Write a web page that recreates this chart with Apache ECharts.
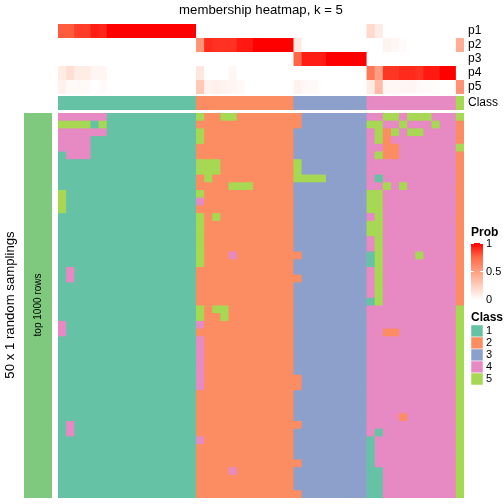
<!DOCTYPE html>
<html><head><meta charset="utf-8">
<script src="https://cdn.jsdelivr.net/npm/echarts@6/dist/echarts.min.js"></script>
<style>html,body{margin:0;padding:0;background:#fff}#c{width:504px;height:504px}</style>
</head><body><div id="c"></div>
<script>
// ---------- data ----------
var probNames = ['p1', 'p2', 'p3', 'p4', 'p5'];
var p1 = [0.78,0.78,0.85,0.85,0.93,0.91,1,1,1,1,1,1,1,1,1,1,1, 0,0,0,0,0,0,0,0,0,0,0,0, 0,0,0,0,0,0,0,0,0, 0.2,0.1,0,0,0,0,0,0,0,0,0, 0];
var p2 = [0,0,0,0,0,0,0,0,0,0,0,0,0,0,0,0,0, 0.55,0.9,0.88,0.88,0.88,0.94,0.94,1,1,1,1,1, 0.12,0,0,0,0,0,0,0,0, 0,0,0.06,0.04,0.02,0,0,0,0,0,0, 0.42];
var p3 = [0,0,0,0,0,0,0,0,0,0,0,0,0,0,0,0,0, 0,0,0,0,0,0,0,0,0,0,0,0, 0.75,0.93,0.93,0.93,1,1,1,1,1, 0,0,0,0,0,0,0,0,0,0,0, 0];
var p4 = [0.1,0.17,0.1,0.1,0.05,0.05,0,0,0,0,0,0,0,0,0,0,0, 0.13,0,0,0,0.04,0,0,0,0,0,0,0, 0,0,0,0,0,0,0,0,0, 0.68,0.5,0.87,0.87,0.9,0.9,0.88,0.94,0.94,1,1, 0];
var p5 = [0.07,0.03,0.03,0.03,0,0.02,0,0,0,0,0,0,0,0,0,0,0, 0.28,0.06,0.08,0.06,0.05,0.03,0,0,0,0,0,0, 0.06,0.03,0.03,0,0,0,0,0,0, 0.1,0.35,0.04,0.04,0.04,0.05,0.03,0.02,0.02,0,0, 0.55];
var sampleClass = [1,1,1,1,1,1,1,1,1,1,1,1,1,1,1,1,1, 2,2,2,2,2,2,2,2,2,2,2,2, 3,3,3,3,3,3,3,3,3, 4,4,4,4,4,4,4,4,4,4,4, 5];
// class of each sample in each of the 50 random samplings (rows), groups split by '|'
var samplingRows = [
"44444411111111111|522552222222|233333333|44554555444|5",
"55551511111111111|222222222222|233333333|55445444544|2",
"44444411111111111|522222222222|333333333|45254554444|2",
"44441111111111111|522222222222|333333333|45244444444|2",
"44441111111111111|222222222222|333333333|44224444444|5",
"14441111111111111|222222222222|333333333|45224444444|2",
"11111111111111111|555222222222|533333333|44444444444|2",
"11111111111111111|555222222222|533333333|44444444444|2",
"11111111111111111|252222222222|555533333|41444444444|2",
"11111111111111111|222255522222|333333333|44545444444|2",
"51111111111111111|522222222222|333333333|55444444444|2",
"51111111111111111|422222222222|333333333|55444444444|2",
"51111111111111111|222222222222|333333333|55444444444|2",
"11111111111111111|525222222222|333333333|45444444444|2",
"11111111111111111|522222222222|333333333|55444444444|2",
"11111111111111111|522222222222|333333333|55444444444|2",
"11111111111111111|522222222222|333333333|45444444444|2",
"11111111111111111|522222222222|333333333|45444444444|2",
"11111111111111111|522242222222|233333333|15444454444|2",
"11111111111111111|522222222222|333333333|15444444444|2",
"14111111111111111|222222222222|333333333|45444444444|2",
"14111111111111111|222222222222|233333333|45444444444|2",
"11111111111111111|222222222222|333333333|45444444444|2",
"11111111111111111|222222222222|333333333|45444444444|2",
"11111111111111111|222222222222|333333333|15444444444|2",
"11111111111111111|525522222222|333333333|44444444444|5",
"11111111111111111|522522222222|333333333|44444444444|5",
"41111111111111111|422222222222|333333333|44444444444|5",
"41111111111111111|222222222222|333333333|44224444444|5",
"11111111111111111|422222222222|333333333|44444444444|5",
"11111111111111111|422222222222|333333333|44444444444|5",
"11111111111111111|422222222222|333333333|44444444444|5",
"11111111111111111|422222222222|333333333|44444444444|5",
"11111111111111111|422222222222|333333333|44444444444|5",
"11111111111111111|422222222222|233333333|44444444444|5",
"11111111111111111|422222222222|233333333|44444444444|5",
"11111111111111111|222222222222|333333333|44444444444|5",
"11111111111111111|222222222222|333333333|44444444444|5",
"11111111111111111|222222222222|333333333|44444444444|5",
"11111111111111111|222222222222|333333333|44442444444|5",
"14111111111111111|222222222222|233333333|44444444444|5",
"14111111111111111|222222222222|333333333|41444444444|5",
"11111111111111111|422222222222|333333333|14444444444|5",
"11111111111111111|222222222222|333333333|14444444444|5",
"11111111111111111|222222222222|333333333|14444444444|5",
"11111111111111111|222222222222|233333333|14444444444|5",
"11111111111111111|222242222222|333333333|11444444444|5",
"11111111111111111|222222222222|333333333|11444444444|5",
"11111111111111111|222222222222|333333333|11444444444|5",
"11111111111111111|222222222222|233333333|11444444444|5"
];
var classLabels = ['1', '2', '3', '4', '5'];
var probTicks = ['0', '0.5', '1'];

// ---------- build ----------
var classColors = {1: '#66c2a5', 2: '#fc8d62', 3: '#8da0cb', 4: '#e78ac3', 5: '#a6d854'};
var probStops = ['#ffffff', '#ffcfbf', '#ff9e81', '#ff6846', '#ff0000'];
var nCol = sampleClass.length;
var cols = []; for (var i = 0; i < nCol; i++) cols.push('s' + (i + 1));
var rowsIdx = []; for (var r = 0; r < samplingRows.length; r++) rowsIdx.push('r' + (r + 1));
var probAll = [p1, p2, p3, p4, p5];
var probData = [];
probAll.forEach(function (arr, k) { arr.forEach(function (v, i) { probData.push([i, k, v]); }); });
var classData = sampleClass.map(function (c, i) { return [i, 0, c]; });
var mainData = [];
samplingRows.forEach(function (s, r) {
  var str = s.replace(/\|/g, '');
  for (var i = 0; i < str.length; i++) mainData.push([i, r, +str[i]]);
});
var leftData = [[0, 0, 1]];

// each cell overlaps its right/bottom neighbour by 1px so no antialiasing seams show;
// the neighbour is drawn afterwards and covers the overlap
function cell(api, fill, nx, ny) {
  var c = api.coord([api.value(0), api.value(1)]);
  var s = api.size([1, 1]);
  var ex = api.value(0) < nx - 1 ? 1 : 0;
  var ey = api.value(1) < ny - 1 ? 1 : 0;
  return {type: 'rect', shape: {x: c[0] - s[0] / 2, y: c[1] - s[1] / 2, width: s[0] + ex, height: s[1] + ey},
          style: {fill: fill}};
}
var FONT = 'Liberation Sans, Arial, Helvetica, sans-serif';
function xAx(g) { return {type: 'category', gridIndex: g, data: g === 3 ? ['a'] : cols, show: false}; }
function yAx(g, data, showLabel) {
  return {type: 'category', gridIndex: g, data: data, inverse: true, position: 'right',
    axisLine: {show: false}, axisTick: {show: false}, splitLine: {show: false},
    axisLabel: {show: showLabel, interval: 0, color: '#000', fontSize: 12, fontFamily: FONT, margin: 4}};
}
var gridLeft = 58, gridW = 406;
var nRow = samplingRows.length;
var option = {
  animation: false,
  backgroundColor: '#fff',
  grid: [
    {left: gridLeft, top: 24, width: gridW, height: 70},
    {left: gridLeft, top: 96, width: gridW, height: 14},
    {left: gridLeft, top: 113, width: gridW, height: 385},
    {left: 24, top: 113, width: 28, height: 385}
  ],
  xAxis: [xAx(0), xAx(1), xAx(2), xAx(3)],
  yAxis: [yAx(0, probNames, true), yAx(1, ['Class'], true), yAx(2, rowsIdx, false), yAx(3, ['a'], false)],
  visualMap: [{type: 'continuous', show: false, min: 0, max: 1, dimension: 2, seriesIndex: 0, inRange: {color: probStops}}],
  series: [
    {type: 'custom', xAxisIndex: 0, yAxisIndex: 0, data: probData,
      renderItem: function (p, api) { return cell(api, api.visual('color'), nCol, probNames.length); }},
    {type: 'custom', xAxisIndex: 1, yAxisIndex: 1, data: classData,
      renderItem: function (p, api) { return cell(api, classColors[api.value(2)], nCol, 1); }},
    {type: 'custom', xAxisIndex: 2, yAxisIndex: 2, data: mainData,
      renderItem: function (p, api) { return cell(api, classColors[api.value(2)], nCol, nRow); }},
    {type: 'custom', xAxisIndex: 3, yAxisIndex: 3, data: leftData,
      renderItem: function (p, api) { return cell(api, '#7fc97f', 1, 1); }}
  ],
  graphic: [
    {type: 'text', z: 100, x: 261, y: 4, style: {text: 'membership heatmap, k = 5', font: '13.2px ' + FONT, fill: '#000', textAlign: 'center'}},
    {type: 'text', z: 100, x: 10, y: 305, rotation: Math.PI / 2, style: {text: '50 x 1 random samplings', font: '13.2px ' + FONT, fill: '#000', textAlign: 'center', textVerticalAlign: 'middle'}},
    {type: 'text', z: 100, x: 38, y: 305, rotation: Math.PI / 2, style: {text: 'top 1000 rows', font: '10px ' + FONT, fill: '#000', textAlign: 'center', textVerticalAlign: 'middle'}},
    {type: 'text', z: 100, x: 471, y: 227, style: {text: 'Prob', font: 'bold 12px ' + FONT, fill: '#000'}},
    {type: 'rect', z: 100, shape: {x: 471, y: 243, width: 12, height: 57},
      style: {fill: new echarts.graphic.LinearGradient(0, 1, 0, 0, probStops.map(function (c, i) { return {offset: i / 4, color: c}; }))}},
    {type: 'line', z: 101, shape: {x1: 471, y1: 271.5, x2: 474, y2: 271.5}, style: {stroke: '#fff', lineWidth: 1}},
    {type: 'line', z: 101, shape: {x1: 480, y1: 271.5, x2: 483, y2: 271.5}, style: {stroke: '#fff', lineWidth: 1}},
    {type: 'line', z: 101, shape: {x1: 471, y1: 243.5, x2: 474, y2: 243.5}, style: {stroke: '#fff', lineWidth: 1}},
    {type: 'line', z: 101, shape: {x1: 480, y1: 243.5, x2: 483, y2: 243.5}, style: {stroke: '#fff', lineWidth: 1}},
    {type: 'text', z: 100, x: 486, y: 300, style: {text: probTicks[0], font: '11px ' + FONT, fill: '#000', textVerticalAlign: 'middle'}},
    {type: 'text', z: 100, x: 486, y: 271.5, style: {text: probTicks[1], font: '11px ' + FONT, fill: '#000', textVerticalAlign: 'middle'}},
    {type: 'text', z: 100, x: 486, y: 243.5, style: {text: probTicks[2], font: '11px ' + FONT, fill: '#000', textVerticalAlign: 'middle'}},
    {type: 'text', z: 100, x: 471, y: 312, style: {text: 'Class', font: 'bold 12px ' + FONT, fill: '#000'}}
  ]
};
classLabels.forEach(function (lab, i) {
  option.graphic.push({type: 'rect', z: 100, shape: {x: 471, y: 325 + i * 12, width: 12, height: 12}, style: {fill: classColors[i + 1], stroke: '#fff', lineWidth: 0.5}});
  option.graphic.push({type: 'text', z: 100, x: 486, y: 331 + i * 12, style: {text: lab, font: '11px ' + FONT, fill: '#000', textVerticalAlign: 'middle'}});
});
var chart = echarts.init(document.getElementById('c'), null, {renderer: 'canvas'});
chart.setOption(option);
</script></body></html>
